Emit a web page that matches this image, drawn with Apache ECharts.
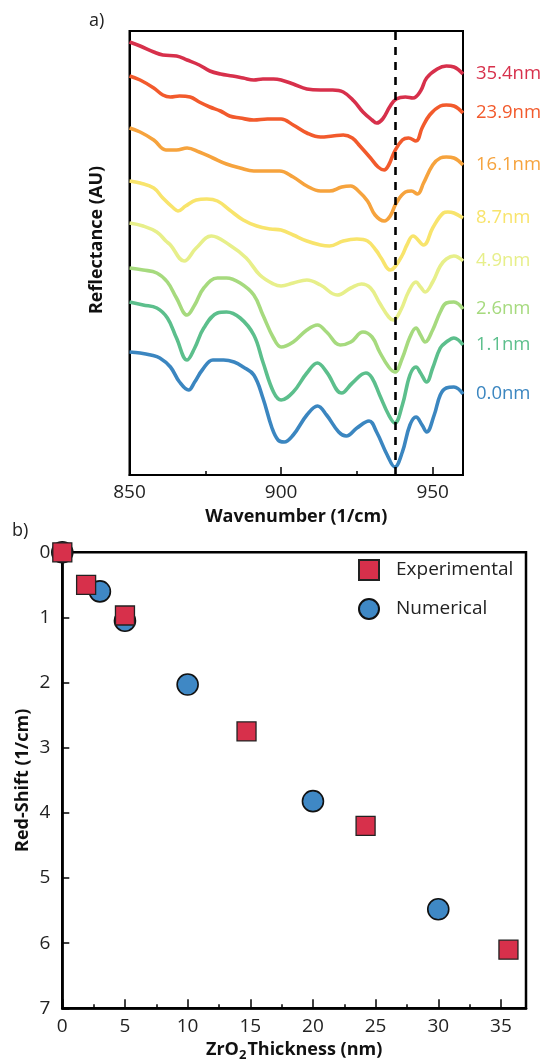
<!DOCTYPE html>
<html><head><meta charset="utf-8">
<script src="https://cdn.jsdelivr.net/npm/echarts@6/dist/echarts.min.js"></script>
<style>html,body{margin:0;padding:0;background:#fff}#c{width:548px;height:1064px}</style>
</head><body><div id="c"></div>
<script>
// ---------- Panel a) reflectance spectra (AU, offset stacked) ----------
const curveNames = ['35.4nm', '23.9nm', '16.1nm', '8.7nm', '4.9nm', '2.6nm', '1.1nm', '0.0nm'];
const curveColors = ['#d7304b', '#f25a2c', '#f6a33d', '#f8e46c', '#e7ef8a', '#a6da7e', '#5cbf8c', '#3b86c0'];

const wn_354 = [850, 853.5, 858, 861, 865.5, 869, 873, 876.5, 880, 884, 887.5, 891, 894, 897.5, 900, 904, 908.5, 913, 917, 920.5, 924, 927, 930, 931.5, 933.5, 936, 938, 941, 943.5, 946, 948, 951.5, 954.5, 957, 960];
const r_354  = [433, 429, 423, 420, 419, 415, 410, 404, 401, 399, 397, 395, 396, 396, 395, 391, 386, 385, 385, 383, 374, 363, 355, 352, 356, 369, 376, 378, 377, 384, 397, 406, 409, 408, 401];

const wn_239 = [850, 853.5, 858, 861, 863.5, 866.5, 870, 873, 876.5, 880, 883, 886.5, 891, 895.5, 900, 904, 908.5, 913, 917, 920.5, 923.5, 926, 929.5, 932, 934, 935.5, 937.5, 940, 942, 944.5, 946.5, 949, 952.5, 954.5, 957, 960];
const r_239  = [399, 395, 387, 380, 378, 379, 378, 373, 368, 364, 359, 357, 355, 356, 356, 350, 342, 338, 339, 340, 337, 329, 317, 308, 305, 310, 324, 335, 337, 334, 347, 360, 369, 370, 369, 362];

const wn_161 = [850, 853.5, 858, 862, 865.5, 869, 873, 877.5, 882, 886.5, 891, 895.5, 899.5, 904, 908.5, 913, 916, 920, 923, 925.5, 928.5, 931, 934, 936, 938, 941, 943, 945, 947, 950, 952.5, 954.5, 957, 960];
const r_161  = [347, 343, 335, 325, 325, 327, 323, 317, 311, 307, 304, 304, 304, 298, 289, 284, 284, 288, 289, 284, 274, 260, 254, 259, 272, 283, 284, 281, 292, 310, 317, 318, 317, 310];

const wn_87 = [850, 853.5, 858, 861, 864.5, 866, 868.5, 872, 875.5, 879, 883, 887.5, 892, 896.5, 900, 904, 908.5, 913, 916, 920.5, 925, 928.5, 931.5, 933, 936, 937.5, 940, 941.5, 943.5, 947, 950, 953.5, 955, 957, 960];
const r_87  = [294, 292, 287, 277, 267, 264, 269, 275, 276, 274, 265, 255, 249, 246, 245, 240, 234, 230, 229, 234, 236, 234, 224, 217, 205, 208, 220, 230, 239, 230, 247, 262, 263, 262, 257];

const wn_49 = [850, 854.5, 859, 862, 863.5, 868, 872, 877, 883, 888.5, 893, 897.5, 900, 904, 908.5, 913, 918.5, 923, 926.5, 929.5, 932.5, 935.5, 937, 939.5, 942, 944.5, 946, 947.5, 950, 952.5, 954.5, 957, 960];
const r_49  = [252, 249, 243, 234, 230, 214, 227, 239, 230, 217, 200, 191, 189, 192, 195, 190, 180, 187, 191, 187, 172, 158, 155, 165, 183, 193, 188, 183, 193, 209, 216, 219, 214];

const wn_26 = [850, 854.5, 859, 862.5, 865.5, 869, 871.5, 874.5, 879, 882, 886.5, 891, 894, 897.5, 900, 904, 908.5, 912, 915, 919.5, 923, 927, 930, 932.5, 935.5, 937.5, 940, 942.5, 944.5, 946, 947.5, 950, 952.5, 954.5, 957, 960];
const r_26  = [207, 205, 202, 193, 177, 160, 170, 187, 197, 197, 192, 180, 160, 137, 128, 133, 145, 150, 143, 130, 133, 143, 138, 123, 108, 103, 117, 138, 147, 140, 133, 145, 163, 172, 173, 166];

const wn_11 = [850, 854.5, 859, 862.5, 865.5, 869, 871.5, 874.5, 879, 882, 886.5, 891, 894, 897.5, 900, 904, 908.5, 912, 915, 920, 923.5, 928, 930, 932.5, 935.5, 937.5, 940, 942.5, 944.5, 946, 948, 950, 952.5, 954.5, 957, 960];
const r_11  = [173, 170, 167, 157, 137, 115, 127, 147, 162, 163, 157, 140, 113, 83, 75, 83, 102, 112, 103, 82, 92, 102, 97, 80, 60, 52, 70, 100, 108, 102, 93, 107, 127, 133, 137, 130];

const wn_00 = [850, 853.5, 857, 860, 863.5, 866.5, 869.5, 871.5, 874, 877.5, 881, 884.5, 887.5, 891, 894, 897, 899, 901, 904, 908.5, 912, 915, 919, 921.5, 925, 929, 931.5, 935, 937.5, 940, 942.5, 944.5, 946.5, 948, 950.5, 952.5, 954.5, 957, 960];
const r_00  = [123, 122, 120, 117, 108, 93, 85, 93, 105, 115, 115, 113, 108, 100, 77, 47, 35, 33, 40, 60, 69, 60, 43, 39, 47, 54, 43, 20, 8, 23, 50, 58, 50, 43, 60, 80, 87, 88, 81];

const curveWn = [wn_354, wn_239, wn_161, wn_87, wn_49, wn_26, wn_11, wn_00];
const curveR  = [r_354, r_239, r_161, r_87, r_49, r_26, r_11, r_00];
const dashedLineWn = 937.5;

// ---------- Panel b) red shift vs ZrO2 thickness ----------
const expThickness = [0, 1.9, 5.0, 14.7, 24.2, 35.6];
const expShift     = [0, 0.50, 0.97, 2.75, 4.20, 6.10];
const numThickness = [0, 3.0, 5.0, 10.0, 20.0, 30.0];
const numShift     = [0, 0.60, 1.05, 2.03, 3.82, 5.48];

const FONT = 'Open Sans';
const chart = echarts.init(document.getElementById('c'), null, {renderer: 'canvas'});

const zip = (a, b) => a.map((v, i) => [v, b[i]]);

const lineSeries = curveNames.map((name, i) => ({
  name: name,
  type: 'line',
  xAxisIndex: 0, yAxisIndex: 0,
  data: zip(curveWn[i], curveR[i]),
  smooth: 0.4,
  showSymbol: false,
  lineStyle: {color: curveColors[i], width: 3.6},
  itemStyle: {color: curveColors[i]},
  endLabel: {show: true, formatter: name, color: curveColors[i], fontSize: 18.5, fontFamily: FONT, distance: 13},
  z: 2
}));

const dashSeries = {
  type: 'line', xAxisIndex: 0, yAxisIndex: 0, data: [], z: 5,
  markLine: {
    silent: true, symbol: ['none', 'none'], animation: false,
    label: {show: false},
    lineStyle: {color: '#000', width: 2.6, type: [8, 7]},
    data: [{xAxis: dashedLineWn}]
  }
};

const tickLabelStyle = {fontSize: 19, color: '#222', fontFamily: FONT};
const boldName = {fontSize: 18, fontWeight: 'bold', color: '#111', fontFamily: FONT};
const PLOT_A_H = 444, PLOT_B_H = 456;

const option = {
  animation: false,
  backgroundColor: '#fff',
  grid: [
    {left: 129.5, top: 31, width: 333.5, height: PLOT_A_H, show: true, borderColor: '#000', borderWidth: 2, backgroundColor: 'transparent'},
    {left: 62.3, top: 552.3, width: 463.7, height: PLOT_B_H, show: true, borderColor: '#000', borderWidth: 2.5, backgroundColor: 'transparent'}
  ],
  xAxis: [
    {gridIndex: 0, type: 'value', position: 'bottom', min: 850, max: 960, interval: 50,
     axisLine: {show: true, onZero: false, lineStyle: {color: '#000', width: 2}},
     axisTick: {show: true, inside: true, length: 8, lineStyle: {color: '#000', width: 1.5}},
     axisLabel: Object.assign({margin: 8, showMaxLabel: false}, tickLabelStyle),
     splitLine: {show: false},
     name: 'Wavenumber (1/cm)', nameLocation: 'middle', nameGap: 33, nameMoveOverlap: false, nameTextStyle: boldName},
    // minor ticks: a 'top' axis shifted down onto the bottom edge, ticks pointing up
    {gridIndex: 0, type: 'value', position: 'top', offset: -PLOT_A_H, min: 850, max: 960, interval: 25,
     axisLine: {show: false, onZero: false},
     axisTick: {show: true, inside: false, length: 4, lineStyle: {color: '#000', width: 1.5}},
     axisLabel: {show: false}, splitLine: {show: false}},
    {gridIndex: 1, type: 'value', position: 'bottom', min: 0, max: 37, interval: 5,
     axisLine: {show: true, onZero: false, lineStyle: {color: '#000', width: 2.5}},
     axisTick: {show: true, inside: true, length: 9, lineStyle: {color: '#000', width: 1.5}},
     axisLabel: Object.assign({margin: 9, showMaxLabel: false}, tickLabelStyle),
     splitLine: {show: false},
     name: '{m|ZrO}{s|2}{m|Thickness (nm)}', nameLocation: 'middle', nameGap: 30, nameMoveOverlap: false,
     nameTextStyle: {rich: {
       m: boldName,
       s: {fontSize: 13, fontWeight: 'bold', color: '#111', fontFamily: FONT, padding: [10, 1, 0, 0]}
     }}},
    {gridIndex: 1, type: 'value', position: 'top', offset: -PLOT_B_H, min: 0, max: 37, interval: 2.5,
     axisLine: {show: false, onZero: false},
     axisTick: {show: true, inside: false, length: 4, lineStyle: {color: '#000', width: 1.5}},
     axisLabel: {show: false}, splitLine: {show: false}}
  ],
  yAxis: [
    {gridIndex: 0, type: 'value', min: 0, max: 444,
     axisLine: {show: true, onZero: false, lineStyle: {color: '#000', width: 2}},
     axisTick: {show: false}, axisLabel: {show: false}, splitLine: {show: false}},
    {gridIndex: 1, type: 'value', min: 0, max: 7, interval: 1, inverse: true,
     axisLine: {show: true, onZero: false, lineStyle: {color: '#000', width: 2.5}},
     axisTick: {show: true, inside: true, length: 7, lineStyle: {color: '#000', width: 1.5}},
     axisLabel: Object.assign({margin: 12}, tickLabelStyle),
     splitLine: {show: false},
     name: 'Red-Shift (1/cm)', nameLocation: 'middle', nameGap: 30, nameMoveOverlap: false, nameTextStyle: boldName}
  ],
  legend: {
    data: ['Experimental', 'Numerical'],
    orient: 'vertical', left: 353, top: 554,
    itemWidth: 20, itemHeight: 20, itemGap: 17,
    textStyle: {fontSize: 19, color: '#222', fontFamily: FONT, padding: [0, 0, 0, 12], lineHeight: 20}
  },
  graphic: [
    {type: 'text', left: 89, top: 12, style: {text: 'a)', fontSize: 18, fontFamily: FONT, fill: '#222'}},
    {type: 'text', left: 12, top: 522, style: {text: 'b)', fontSize: 18, fontFamily: FONT, fill: '#222'}},
    {type: 'text', x: 97, y: 240, rotation: Math.PI / 2,
     style: {text: 'Reflectance (AU)', fontSize: 18, fontWeight: 'bold', fontFamily: FONT, fill: '#111', align: 'center', verticalAlign: 'middle'}}
  ],
  series: lineSeries.concat([dashSeries,
    {name: 'Numerical', type: 'scatter', xAxisIndex: 2, yAxisIndex: 1, clip: false,
     data: zip(numThickness, numShift), symbol: 'circle', symbolSize: 21, z: 3,
     itemStyle: {color: '#3f88c5', borderColor: '#111', borderWidth: 1.6, opacity: 1}},
    {name: 'Experimental', type: 'scatter', xAxisIndex: 2, yAxisIndex: 1, clip: false,
     data: zip(expThickness, expShift), symbol: 'rect', symbolSize: 19, z: 4,
     itemStyle: {color: '#d7304b', borderColor: '#222', borderWidth: 1.3, opacity: 1}}
  ])
};
chart.setOption(option);
</script></body></html>
